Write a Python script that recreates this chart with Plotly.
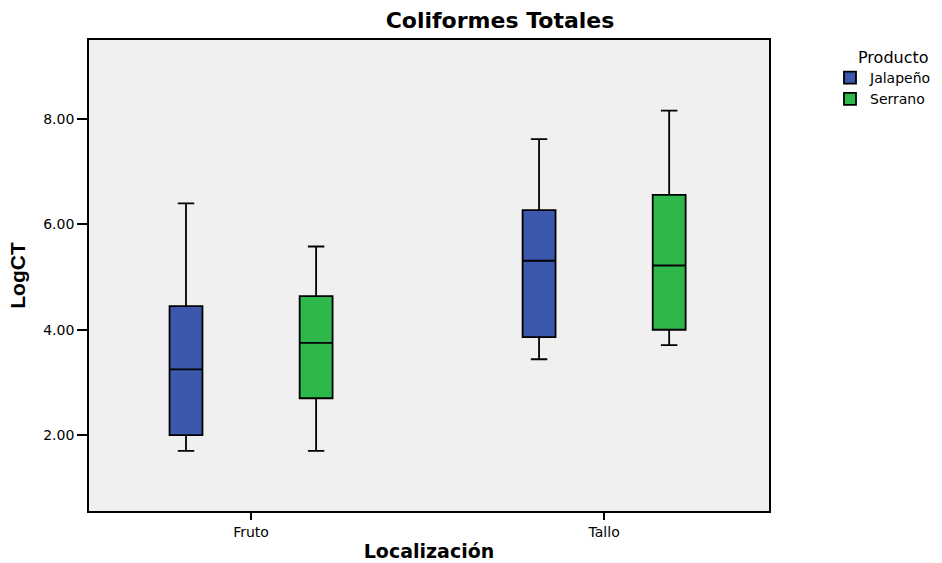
import plotly.graph_objects as go

# Box-plot summary statistics of LogCT by location and product
localizacion = ["Fruto", "Tallo"]

jalapeno_low = [1.70, 3.44]
jalapeno_q1 = [2.00, 3.86]
jalapeno_med = [3.25, 5.31]
jalapeno_q3 = [4.45, 6.27]
jalapeno_high = [6.40, 7.62]

serrano_low = [1.70, 3.71]
serrano_q1 = [2.70, 4.00]
serrano_med = [3.75, 5.22]
serrano_q3 = [4.64, 6.56]
serrano_high = [5.58, 8.16]

y_ticks = [2, 4, 6, 8]
y_tick_text = ["2.00", "4.00", "6.00", "8.00"]

FONT = "DejaVu Sans, Verdana, sans-serif"

fig = go.Figure()
fig.add_trace(go.Box(
    name="Jalapeño", x=localizacion,
    q1=jalapeno_q1, median=jalapeno_med, q3=jalapeno_q3,
    lowerfence=jalapeno_low, upperfence=jalapeno_high,
    fillcolor="#3C58AC", line=dict(color="black", width=1.8),
    whiskerwidth=0.5, boxpoints=False, hoverinfo="skip",
))
fig.add_trace(go.Box(
    name="Serrano", x=localizacion,
    q1=serrano_q1, median=serrano_med, q3=serrano_q3,
    lowerfence=serrano_low, upperfence=serrano_high,
    fillcolor="#2EB84B", line=dict(color="black", width=1.8),
    whiskerwidth=0.5, boxpoints=False, hoverinfo="skip",
))

fig.update_layout(
    width=942, height=563,
    margin=dict(l=89, r=173, t=40, b=52),
    paper_bgcolor="white",
    plot_bgcolor="#F0F0F0",
    boxmode="group",
    boxgap=0.263,
    boxgroupgap=0.747,
    font=dict(family=FONT, color="black", size=13),
    title=dict(
        text="<b>Coliformes Totales</b>",
        font=dict(family=FONT, size=22, color="black"),
        x=500 / 942, xanchor="center", xref="container",
        y=1 - 20 / 563, yanchor="middle", yref="container",
    ),
    showlegend=True,
    legend=dict(
        font=dict(size=14, family=FONT),
        x=830 / 942, xref="container", xanchor="left",
        y=1 - 62 / 563, yref="container", yanchor="top",
        bgcolor="rgba(0,0,0,0)",
        itemwidth=30,
        tracegroupgap=0,
    ),
    annotations=[dict(
        text="Producto", xref="paper", yref="paper",
        x=(893 - 89) / 680, y=(511 - 57) / 471,
        xanchor="center", yanchor="middle", showarrow=False,
        font=dict(size=16, family=FONT, color="black"),
    )],
)

fig.update_xaxes(
    range=[-0.459, 1.467], automargin=False,
    showline=True, linecolor="black", linewidth=1.8, mirror=True,
    ticks="outside", ticklen=7, tickcolor="black", tickwidth=1.5,
    tickfont=dict(size=14, family=FONT),
    title=dict(text="<b>Localización</b>", font=dict(size=19, family=FONT), standoff=6),
    showgrid=False, zeroline=False,
)
fig.update_yaxes(
    range=[0.56, 9.5], automargin=False,
    tickvals=y_ticks, ticktext=y_tick_text,
    showline=True, linecolor="black", linewidth=1.8, mirror=True,
    ticks="outside", ticklen=10, tickcolor="black", tickwidth=1.5,
    tickfont=dict(size=14, family=FONT),
    title=dict(text="<b>LogCT</b>", font=dict(size=21, family="Liberation Sans Narrow, Arial Narrow, Liberation Sans, Arial"), standoff=12),
    showgrid=False, zeroline=False,
)

fig.write_html("out.html")
